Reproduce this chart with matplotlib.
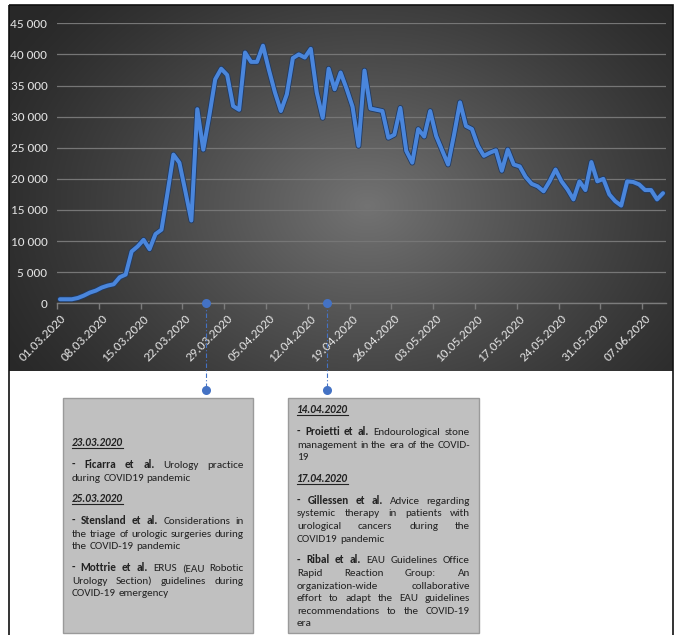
import numpy as np
import matplotlib
matplotlib.use("Agg")
import matplotlib.pyplot as plt
import matplotlib.patheffects as pe
from matplotlib import font_manager
from matplotlib.patches import Rectangle

W, H = 675, 635

# daily values, 01.03.2020 .. 10.06.2020
CASES = [650, 650, 650, 860, 1240, 1720, 2040, 2530, 2850, 3060,
         4190, 4620, 8330, 9140, 10200, 8700, 11130, 11830, 17700, 23900,
         22600, 18000, 13300, 31200, 24700, 30100, 36000, 37700, 36700, 31700,
         31100, 40300, 38800, 38800, 41400, 37500, 33900, 30900, 33600, 39400,
         40000, 39500, 40900, 33900, 29800, 37700, 34400, 37100, 34500, 31600,
         25300, 37400, 31300, 31100, 30900, 26600, 27100, 31400, 24500, 22600,
         28000, 26800, 30900, 26900, 24600, 22300, 27100, 32300, 28500, 28000,
         25300, 23700, 24200, 24600, 21300, 24700, 22300, 22000, 20300, 19200,
         18800, 18000, 19600, 21500, 19600, 18300, 16700, 19600, 18200, 22700,
         19600, 20000, 17500, 16400, 15700, 19600, 19500, 19100, 18200, 18200,
         16700, 17700]

DATE_LABELS = ["01.03.2020", "08.03.2020", "15.03.2020", "22.03.2020",
               "29.03.2020", "05.04.2020", "12.04.2020", "19.04.2020",
               "26.04.2020", "03.05.2020", "10.05.2020", "17.05.2020",
               "24.05.2020", "31.05.2020", "07.06.2020"]
LABEL_STEP = 7

Y_TICKS = [0, 5000, 10000, 15000, 20000, 25000, 30000, 35000, 40000, 45000]
Y_LABELS = ["0", "5 000", "10 000", "15 000", "20 000", "25 000",
            "30 000", "35 000", "40 000", "45 000"]

# where the two callouts hook onto the time axis (category index)
CALLOUT_X = [24.5, 44.8]

# text boxes: paragraphs -> lines -> (text, style)
BOX1 = [
    [[("23.03.2020", "date")]],
    [[("- Ficarra et al.", "b"), ("Urology practice", "n")],
     [("during COVID19 pandemic", "n")]],
    [[("25.03.2020", "date")]],
    [[("- Stensland et al.", "b"), ("Considerations in", "n")],
     [("the triage of urologic surgeries during", "n")],
     [("the COVID-19 pandemic", "n")]],
    [[("- Mottrie et al.", "b"), ("ERUS (EAU Robotic", "n")],
     [("Urology Section) guidelines during", "n")],
     [("COVID-19 emergency", "n")]],
]
BOX2 = [
    [[("14.04.2020", "date")]],
    [[("- Proietti et al.", "b"), ("Endourological stone", "n")],
     [("management in the era of the COVID-", "n")],
     [("19", "n")]],
    [[("17.04.2020", "date")]],
    [[("- Gillessen et al.", "b"), ("Advice regarding", "n")],
     [("systemic therapy in patients with", "n")],
     [("urological cancers during the", "n")],
     [("COVID19 pandemic", "n")]],
    [[("- Ribal et al.", "b"), ("EAU Guidelines Office", "n")],
     [("Rapid Reaction Group: An", "n")],
     [("organization-wide collaborative", "n")],
     [("effort to adapt the EAU guidelines", "n")],
     [("recommendations to the COVID-19", "n")],
     [("era", "n")]],
]

# pick a narrow-ish font that is actually installed
installed = {f.name for f in font_manager.fontManager.ttflist}
FONT = next(f for f in ["Carlito", "Liberation Sans Narrow", "Lato",
                        "Open Sans", "DejaVu Sans"] if f in installed)
plt.rcParams["font.family"] = [FONT, "DejaVu Sans"]

LINE_BLUE = "#4a86dc"
DOT_BLUE = "#4472c4"
LABEL_COL = "#e2e2e2"

fig = plt.figure(figsize=(W / 100, H / 100), dpi=100, facecolor="white")

# ---- background layer (pixel coordinates) ----
bg = fig.add_axes([0, 0, 1, 1], zorder=0)
bg.set_xlim(0, W)
bg.set_ylim(H, 0)
bg.axis("off")

gx, gy = np.meshgrid(np.linspace(0, 1, 400), np.linspace(0, 1, 220))
r = np.sqrt(((gx - 0.54) / 0.62) ** 2 + ((gy - 0.55) / 0.85) ** 2)
v = np.clip(1 - r, 0, 1) ** 1.2
shade = 0.16 + 0.29 * v
bg.imshow(np.dstack([shade, shade, shade]), extent=(9, 673, 371, 5),
          aspect="auto", interpolation="bilinear", zorder=0)
bg.add_patch(Rectangle((9, 5), 664, 660, fill=False, edgecolor="#111111",
                       linewidth=1.2, zorder=1))

# ---- chart ----
x0, x1 = 57, 666
y_top, y_zero = 23.3, 303.3
ax = fig.add_axes([x0 / W, 1 - y_zero / H, (x1 - x0) / W, (y_zero - y_top) / H],
                  zorder=1)
ax.patch.set_alpha(0)

days = np.arange(len(CASES))
ax.plot(days, CASES, color=LINE_BLUE, linewidth=2.9, solid_joinstyle="round",
        solid_capstyle="round", zorder=3,
        path_effects=[pe.Stroke(linewidth=4.1, foreground="#203a62"), pe.Normal()])

ax.set_xlim(-0.5, len(CASES) - 0.5)
ax.set_ylim(0, 45000)
for s in ["top", "right", "left"]:
    ax.spines[s].set_visible(False)
ax.spines["bottom"].set_color("#7c7c7c")
ax.spines["bottom"].set_linewidth(1)

ax.set_yticks(Y_TICKS)
ax.set_yticklabels(Y_LABELS)
ax.tick_params(axis="y", length=0, pad=7, labelsize=9.5, labelcolor=LABEL_COL)
ax.grid(axis="y", color="#767676", linewidth=0.9)
ax.set_axisbelow(True)

label_pos = np.arange(len(DATE_LABELS)) * LABEL_STEP
ax.set_xticks(label_pos)
ax.set_xticklabels(DATE_LABELS, rotation=45, ha="right", va="top",
                   rotation_mode="anchor")
ax.tick_params(axis="x", which="major", length=0, pad=7, labelsize=9.5,
               labelcolor=LABEL_COL)
ax.set_xticks(label_pos - 0.5, minor=True)
ax.tick_params(axis="x", which="minor", length=4, color="#7c7c7c", width=1)

# ---- callout connectors (overlay, pixel coordinates) ----
ov = fig.add_axes([0, 0, 1, 1], zorder=2)
ov.set_xlim(0, W)
ov.set_ylim(H, 0)
ov.axis("off")
ov.patch.set_alpha(0)

fig.canvas.draw()
for cx in CALLOUT_X:
    px = ax.transData.transform((cx, 0))[0]
    ov.plot([px, px], [y_zero, 390], color=DOT_BLUE, linewidth=0.8,
            linestyle=(0, (4, 2, 1, 2)), zorder=1)
    ov.plot([px, px], [y_zero, 390], "o", color=DOT_BLUE, markersize=6.5,
            markeredgewidth=0, zorder=2)

# ---- text boxes ----
BOX_FACE = "#c0c0c0"
BOX_EDGE = "#9a9a9a"
TEXT_COL = "#222222"
STYLE = {
    "n": dict(weight="normal"),
    "b": dict(weight="bold"),
    "date": dict(weight="bold", style="italic"),
}

renderer = fig.canvas.get_renderer()


def word_width(word, style, size):
    t = bg.text(0, 0, word, fontsize=size, **STYLE[style])
    w = t.get_window_extent(renderer).width
    t.remove()
    return w


def line_words(line):
    return [(w, st) for text, st in line for w in text.split()]


def natural_width(line, size, space):
    ws = line_words(line)
    return sum(word_width(w, st, size) for w, st in ws) + space * (len(ws) - 1)


def space_width(size):
    return word_width("a a", "n", size) - word_width("aa", "n", size)


def draw_box(bx0, bx1, ytop, first_y, paras, size, step=12.6, gap=9.2):
    bg.add_patch(Rectangle((bx0, ytop), bx1 - bx0, 633 - ytop, facecolor=BOX_FACE,
                           edgecolor=BOX_EDGE, linewidth=1, zorder=2))
    tx0, tx1 = bx0 + 9, bx1 - 9
    space = space_width(size)
    y = first_y
    for pi, para in enumerate(paras):
        if pi > 0:
            y += gap
        for li, line in enumerate(para):
            if li > 0 or pi > 0:
                y += step
            ws = line_words(line)
            widths = [word_width(w, st, size) for w, st in ws]
            justify = li < len(para) - 1 and len(ws) > 1
            sp = (tx1 - tx0 - sum(widths)) / (len(ws) - 1) if justify else space
            x = tx0
            base = y + 3.2
            for (w, st), wd in zip(ws, widths):
                bg.text(x, base, w, fontsize=size, color=TEXT_COL, va="baseline",
                        ha="left", zorder=3, **STYLE[st])
                if st == "date":
                    bg.plot([x, x + wd], [base + 1.6, base + 1.6], color=TEXT_COL,
                            linewidth=0.8, zorder=3)
                x += wd + sp


# font size so the fullest justified line just fits the column
def fit_size(paras, col_w):
    base = 10.0
    sp = space_width(base)
    worst = max(natural_width(line, base, sp) / col_w
                for para in paras for line in para[:-1])
    return min(8.2, base / worst * 0.995)


size = min(fit_size(BOX1, 172), fit_size(BOX2, 173))
draw_box(63, 253, 398, 443, BOX1, size)
draw_box(288, 479, 398, 410, BOX2, size)

fig.savefig("out.png", dpi=100, facecolor="white")
